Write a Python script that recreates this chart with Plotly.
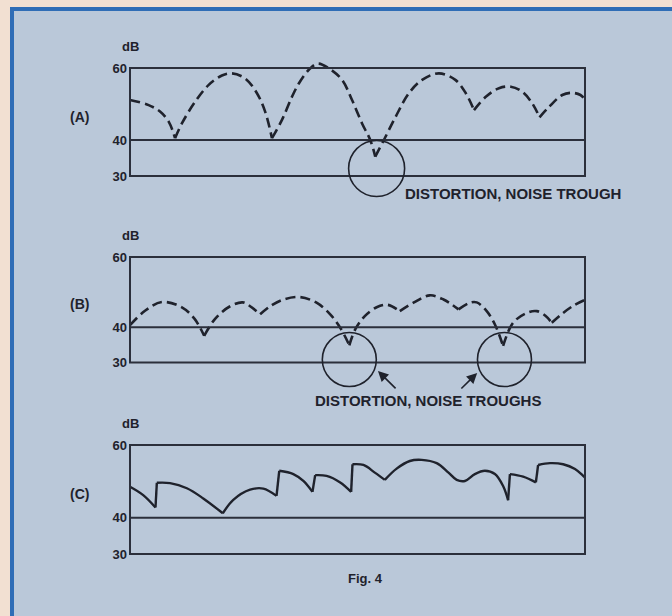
import plotly.graph_objects as go

# ---------------- data ----------------
TICK_VALUES = [30, 40, 60]
TICK_LABELS = ["30", "40", "60"]
PANEL_LABELS = ["(A)", "(B)", "(C)"]

# Panel A (dashed) - arcs separated by None, troughs shared
A_X = [0, 4.1, 6.6, 8.5, 9.9, None,
       9.9, 11.4, 14.3, 17.3, 20.2, 22.4, 25.3, 27.9, 29.7, 31.2, None,
       31.2, 33.4, 35.6, 37.1, 39.3, 41.2, 43.7, 46.6, 48.8, 51.0, 52.8, 53.9, None,
       53.9, 55.8, 58.4, 61.3, 64.2, 67.9, 71.5, 73.8, 75.6, None,
       75.6, 78.2, 81.1, 83.7, 86.2, 88.4, 90.0, None,
       90.0, 92.1, 95.0, 97.2, 99.0, 100]
A_Y = [51.1, 49.7, 47.9, 45.1, 40.5, None,
       40.5, 44.6, 50.6, 55.3, 57.9, 58.5, 57.1, 53.0, 47.9, 40.5, None,
       40.5, 45.6, 52.0, 55.7, 59.5, 61.2, 59.9, 56.7, 51.1, 44.6, 40.0, 35.4, None,
       35.4, 40.0, 46.5, 53.0, 56.7, 58.5, 56.7, 53.0, 48.3, None,
       48.3, 52.0, 54.4, 54.8, 53.4, 50.2, 46.3, None,
       46.3, 49.2, 52.5, 53.1, 52.5, 51.3]

# Panel B (dashed)
B_X = [0, 3.3, 7.0, 11.4, 14.2, 16.3, None,
       16.3, 18.7, 22.0, 24.8, 26.4, 28.6, None,
       28.6, 30.8, 33.7, 37.4, 41.0, 44.0, 46.2, 48.2, None,
       48.2, 49.5, 51.6, 54.2, 56.6, 59.3, None,
       59.3, 62.3, 65.9, 68.9, 72.2, None,
       72.2, 74.7, 76.2, 78.4, 80.2, 82.0, None,
       82.0, 84.2, 87.2, 89.4, 91.3, 92.7, None,
       92.7, 95.2, 97.5, 99.8]
B_Y = [40.6, 44.7, 47.2, 45.7, 42.4, 37.6, None,
       37.6, 42.4, 46.0, 47.1, 46.0, 43.7, None,
       43.7, 46.0, 47.9, 48.6, 47.0, 43.7, 39.9, 34.9, None,
       34.9, 39.4, 43.2, 45.7, 46.4, 44.6, None,
       44.6, 47.0, 49.1, 47.9, 45.1, None,
       45.1, 47.0, 47.1, 44.6, 40.8, 34.7, None,
       34.7, 41.3, 44.1, 44.6, 43.3, 41.3, None,
       41.3, 44.1, 46.2, 47.7]

# Panel C (solid, with abrupt steps)
C_X = [0, 2.9, 5.6, None, 5.6, 5.9, None,
       5.9, 8.8, 12.5, 16.1, 20.4, None,
       20.4, 22.7, 26.4, 29.3, 32.2, None, 32.2, 32.8, None,
       32.8, 35.9, 38.1, 40.1, None, 40.1, 40.7, None,
       40.7, 43.2, 46.2, 48.6, None, 48.6, 48.9, None,
       48.9, 51.3, 53.8, 56.0, None,
       56.0, 58.6, 61.5, 64.1, 67.4, 70.0, 71.8, 73.6, 75.8, 78.0, 80.2, 82.0, 83.1, None,
       83.1, 83.5, None,
       83.5, 86.4, 89.2, None, 89.2, 89.7, None,
       89.7, 92.3, 95.2, 97.8, 99.6, 100]
C_Y = [48.5, 46.2, 42.8, None, 42.8, 49.6, None,
       49.6, 49.5, 48.1, 45.3, 41.2, None,
       41.2, 44.9, 47.7, 48.0, 46.0, None, 46.0, 52.9, None,
       52.9, 52.0, 50.1, 47.1, None, 47.1, 51.7, None,
       51.7, 51.5, 49.7, 47.1, None, 47.1, 54.7, None,
       54.7, 54.5, 52.4, 50.4, None,
       50.4, 53.5, 55.6, 55.9, 55.0, 52.4, 50.4, 50.1, 52.0, 52.9, 52.0, 48.7, 44.8, None,
       44.8, 52.0, None,
       52.0, 51.3, 49.7, None, 49.7, 54.5, None,
       54.5, 55.0, 54.7, 53.4, 51.5, 51.0]

# Trough markers (circle centres, data units) and labels
A_TROUGHS = [(54.2, 32.1)]
B_TROUGHS = [(48.2, 30.85), (82.3, 30.85)]
A_NOTE = "DISTORTION, NOISE TROUGH"
B_NOTE = "DISTORTION, NOISE TROUGHS"
CAPTION = "Fig. 4"

# ---------------- layout geometry ----------------
W, H = 672, 616
BOX_L, BOX_R = 130, 585          # pixel x of 0 and 100
XR = [-1.5, 101.5]
sx = (BOX_R - BOX_L) / 100.0
x_dom = [(BOX_L + XR[0] * sx) / W, (BOX_L + XR[1] * sx) / W]
YR = [18, 62.5]
PANELS = [(68, 176), (257, 362.5), (445, 554)]   # pixel y of 60 and 30

INK = "#1f222c"
BOX = "#2b2f3b"
BG = "#bac8d9"
FONT = "Liberation Sans"


def tf(size):
    return dict(family=FONT, size=size, color=INK, weight="bold")


fig = go.Figure()
series = [(A_X, A_Y, "dash"), (B_X, B_Y, "dash"), (C_X, C_Y, "solid")]
shapes = []
annotations = []

for i, ((p60, p30), (xs, ys, dash)) in enumerate(zip(PANELS, series)):
    n = "" if i == 0 else str(i + 1)
    sy = (p30 - p60) / 30.0
    top = p60 - (YR[1] - 60) * sy
    bot = p30 + (30 - YR[0]) * sy
    y_dom = [1 - bot / H, 1 - top / H]
    fig.update_layout(**{
        "xaxis" + n: dict(domain=x_dom, range=XR, visible=False, anchor="y" + n),
        "yaxis" + n: dict(domain=y_dom, range=YR, anchor="free", position=BOX_L / W,
                          tickvals=TICK_VALUES, ticktext=TICK_LABELS, ticks="",
                          ticklabelstandoff=3,
                          showline=False, showgrid=False, zeroline=False,
                          tickfont=tf(13), fixedrange=True),
    })
    fig.add_trace(go.Scatter(
        x=xs, y=ys, mode="lines", xaxis="x" + n, yaxis="y" + n,
        line=dict(color=INK, width=2.6 if dash == "dash" else 2.4,
                  dash="10px,5px" if dash == "dash" else "solid",
                  shape="spline", smoothing=1.0),
        connectgaps=False, hoverinfo="skip"))
    shapes.append(dict(type="rect", xref="x" + n, yref="y" + n, x0=0, x1=100,
                       y0=30, y1=60, line=dict(color=BOX, width=2)))
    shapes.append(dict(type="line", xref="x" + n, yref="y" + n, x0=0, x1=100,
                       y0=40, y1=40, line=dict(color=BOX, width=2)))
    annotations.append(dict(text="dB", xref="x" + n, yref="y" + n, x=0, y=60,
                            yshift=21, showarrow=False, xanchor="center",
                            font=tf(13)))
    annotations.append(dict(text=PANEL_LABELS[i], xref="paper", yref="y" + n,
                            x=79 / W, y=46.5, showarrow=False, xanchor="center",
                            font=tf(14)))

for (cx, cy) in A_TROUGHS:
    shapes.append(dict(type="circle", xref="x", yref="y", xsizemode="pixel",
                       ysizemode="pixel", xanchor=cx, yanchor=cy,
                       x0=-28, x1=28, y0=-28, y1=28,
                       line=dict(color=INK, width=1.6)))
for (cx, cy) in B_TROUGHS:
    shapes.append(dict(type="circle", xref="x2", yref="y2", xsizemode="pixel",
                       ysizemode="pixel", xanchor=cx, yanchor=cy,
                       x0=-27, x1=27, y0=-27, y1=27,
                       line=dict(color=INK, width=1.6)))

annotations.append(dict(text=A_NOTE, xref="x", yref="y", x=60, y=25,
                        xanchor="left", showarrow=False, font=tf(15)))
annotations.append(dict(text=B_NOTE, xref="x2", yref="y2", x=65.6, y=19.3,
                        xanchor="center", showarrow=False, font=tf(15)))
# arrows from label to the two circles
for (hx, hy, tx, ty) in [(54.5, 27.6, 58.7, 22.2), (76.3, 27.0, 72.5, 22.2)]:
    annotations.append(dict(text="", xref="x2", yref="y2", x=hx, y=hy,
                            axref="x2", ayref="y2", ax=tx, ay=ty,
                            showarrow=True, arrowhead=2, arrowsize=1.3,
                            arrowwidth=1.6, arrowcolor=INK, standoff=0))
annotations.append(dict(text=CAPTION, xref="paper", yref="paper",
                        x=366 / W, y=1 - 588 / H, showarrow=False, font=tf(13)))

# page background with the blue frame
shapes.insert(0, dict(type="rect", xref="paper", yref="paper",
                      x0=12 / W, x1=1.05, y0=-0.05, y1=1 - 9 / H,
                      fillcolor=BG, line=dict(color="#2f6db6", width=4),
                      layer="below"))

fig.update_layout(width=W, height=H, autosize=False,
                  margin=dict(l=0, r=0, t=0, b=0),
                  paper_bgcolor="#f2e0d2", plot_bgcolor="rgba(0,0,0,0)",
                  showlegend=False, shapes=shapes, annotations=annotations,
                  font=dict(family=FONT, color=INK))

fig.write_html("out.html",
               config={"displayModeBar": False, "staticPlot": True},
               post_script="document.body.style.margin='0px';"
                           "document.body.style.overflow='hidden';")
